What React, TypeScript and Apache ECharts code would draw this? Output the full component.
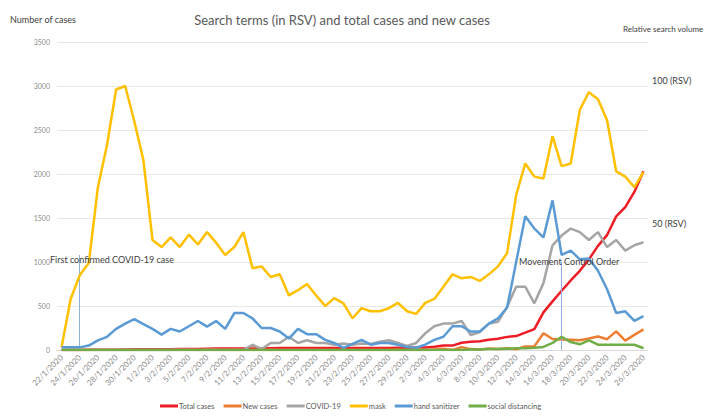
import React, { useEffect, useRef } from "react";
import * as echarts from "echarts";

const dates = [
  "22/1/2020", "23/1/2020", "24/1/2020", "25/1/2020", "26/1/2020", "27/1/2020", "28/1/2020", "29/1/2020", "30/1/2020", "31/1/2020",
  "1/2/2020", "2/2/2020", "3/2/2020", "4/2/2020", "5/2/2020", "6/2/2020", "7/2/2020", "8/2/2020", "9/2/2020", "10/2/2020",
  "11/2/2020", "12/2/2020", "13/2/2020", "14/2/2020", "15/2/2020", "16/2/2020", "17/2/2020", "18/2/2020", "19/2/2020", "20/2/2020",
  "21/2/2020", "22/2/2020", "23/2/2020", "24/2/2020", "25/2/2020", "26/2/2020", "27/2/2020", "28/2/2020", "29/2/2020",
  "1/3/2020", "2/3/2020", "3/3/2020", "4/3/2020", "5/3/2020", "6/3/2020", "7/3/2020", "8/3/2020", "9/3/2020", "10/3/2020",
  "11/3/2020", "12/3/2020", "13/3/2020", "14/3/2020", "15/3/2020", "16/3/2020", "17/3/2020", "18/3/2020", "19/3/2020", "20/3/2020",
  "21/3/2020", "22/3/2020", "23/3/2020", "24/3/2020", "25/3/2020", "26/3/2020",
];

const totalCases = [
  0, 0, 0, 3, 4, 4, 4, 7, 8, 8,
  8, 8, 8, 10, 12, 12, 14, 16, 16, 18,
  18, 18, 19, 21, 22, 22, 22, 22, 22, 22,
  22, 22, 22, 22, 22, 22, 23, 25, 25,
  29, 29, 36, 50, 50, 83, 93, 99, 117, 129,
  149, 158, 197, 238, 428, 553, 673, 790, 900, 1030,
  1183, 1306, 1518, 1624, 1796, 2031,
];

const newCases = [
  0, 0, 0, 3, 1, 0, 0, 3, 1, 0,
  0, 0, 0, 2, 2, 0, 2, 2, 0, 2,
  0, 0, 1, 2, 1, 0, 0, 0, 0, 0,
  0, 0, 0, 0, 0, 0, 1, 2, 0,
  4, 0, 7, 14, 0, 33, 10, 6, 18, 12,
  20, 9, 39, 41, 190, 125, 120, 117, 110, 130,
  153, 123, 212, 106, 172, 235,
];

const covid19 = [
  0, 0, 0, 0, 0, 0, 0, 0, 0, 0,
  0, 0, 0, 0, 0, 0, 0, 0, 0, 0,
  0, 60, 10, 80, 80, 150, 80, 110, 80, 80,
  60, 75, 60, 75, 70, 95, 110, 80, 45,
  80, 190, 270, 300, 300, 330, 170, 205, 300, 320,
  490, 720, 720, 530, 760, 1190, 1300, 1380, 1340, 1250,
  1340, 1170, 1250, 1130, 1190, 1225,
];

const mask = [
  30, 580, 850, 990, 1850, 2330, 2960, 3000, 2600, 2160,
  1250, 1170, 1280, 1170, 1310, 1200, 1340, 1220, 1080, 1170,
  1340, 930, 950, 830, 860, 620, 680, 750, 620, 500,
  590, 530, 360, 475, 440, 440, 475, 535, 440,
  410, 535, 580, 720, 860, 815, 830, 785, 860, 950,
  1100, 1760, 2120, 1970, 1950, 2430, 2090, 2120, 2730, 2930,
  2850, 2610, 2030, 1970, 1850, 2020,
];

const handSanitizer = [
  30, 30, 30, 50, 110, 150, 240, 300, 350, 295,
  240, 175, 240, 210, 270, 330, 265, 330, 240, 420,
  420, 360, 250, 250, 210, 130, 240, 180, 180, 115,
  80, 25, 70, 115, 60, 80, 80, 60, 35,
  25, 60, 115, 150, 270, 270, 210, 210, 300, 360,
  480, 1000, 1520, 1380, 1280, 1700, 1080, 1130, 1030, 1040,
  900, 690, 420, 440, 330, 385,
];

const socialDistancing = [
  0, 0, 0, 0, 0, 0, 0, 0, 0, 0,
  0, 0, 0, 0, 0, 0, 0, 0, 0, 0,
  0, 0, 0, 0, 0, 0, 0, 0, 0, 0,
  0, 0, 0, 0, 0, 0, 0, 0, 0,
  0, 0, 0, 0, 0, 0, 5, 5, 10, 10,
  15, 20, 20, 25, 35, 80, 150, 90, 65, 110,
  60, 60, 60, 60, 60, 20,
];

const seriesNames = ["Total cases", "New cases", "COVID-19", "mask", "hand sanitizer", "social distancing"];
const seriesColors = ["#EE1C25", "#ED7D31", "#A5A5A5", "#FFC000", "#5B9BD5", "#70AD47"];
const seriesData = [totalCases, newCases, covid19, mask, handSanitizer, socialDistancing];

const yTicks = { min: 0, max: 3500, interval: 500 };

const annotations = [
  { date: "24/1/2020", top: 1080 },
  { date: "17/3/2020", top: 1000 },
];

const FONT = "Lato, 'Open Sans', sans-serif";

export default function App() {
  const ref = useRef<HTMLDivElement>(null);
  useEffect(() => {
    if (!ref.current) return;
    const chart = echarts.init(ref.current, undefined, { renderer: "svg" });
    const series: any[] = seriesNames.map((name, i) => ({
      name,
      type: "line",
      data: seriesData[i],
      symbol: "none",
      showSymbol: false,
      lineStyle: { width: 2.5, color: seriesColors[i] },
      itemStyle: { color: seriesColors[i] },
      z: 2 + i,
    }));
    series[4].markLine = {
      silent: true,
      symbol: ["none", "none"],
      label: { show: false },
      lineStyle: { color: "#8FB1DE", width: 1, type: "solid" },
      data: annotations.map((a) => [
        { coord: [a.date, a.top] },
        { coord: [a.date, 0] },
      ]),
    };
    chart.setOption({
      animation: false,
      textStyle: { fontFamily: FONT },
      grid: { left: 57, right: 74, top: 42, bottom: 70, containLabel: false },
      xAxis: {
        type: "category",
        data: dates,
        boundaryGap: true,
        axisLine: { lineStyle: { color: "#D9D9D9" } },
        axisTick: { show: false },
        axisLabel: { rotate: 45, interval: 1, fontSize: 8, color: "#8C8C8C", margin: 6, fontFamily: FONT },
      },
      yAxis: {
        type: "value",
        min: yTicks.min,
        max: yTicks.max,
        interval: yTicks.interval,
        axisLine: { show: false },
        axisTick: { show: false },
        splitLine: { lineStyle: { color: "#E8E8E8", width: 1 } },
        axisLabel: { fontSize: 7, color: "#8C8C8C", margin: 7, fontFamily: FONT, formatter: (v: number) => String(v) },
      },
      legend: {
        data: seriesNames,
        left: 155,
        top: 397,
        icon: "rect",
        itemWidth: 18,
        itemHeight: 3,
        itemGap: 9,
        textStyle: { fontSize: 7.5, color: "#595959", fontFamily: FONT, padding: [0, 0, 0, -4] },
      },
      graphic: [
        { type: "text", left: 10, top: 15, style: { text: "Number of cases", fontSize: 9, fill: "#404040", fontFamily: FONT } },
        { type: "text", x: 342, y: 20, style: { text: "Search terms (in RSV) and total cases and new cases", fontSize: 13, fill: "#595959", fontFamily: FONT, textAlign: "center", textVerticalAlign: "middle" } },
        { type: "text", x: 623, y: 29, style: { text: "Relative search volume", fontSize: 8, fill: "#404040", fontFamily: FONT, textVerticalAlign: "middle" } },
        { type: "text", x: 652, y: 80, style: { text: "100 (RSV)", fontSize: 9, fill: "#404040", fontFamily: FONT, textVerticalAlign: "middle" } },
        { type: "text", x: 652, y: 223, style: { text: "50 (RSV)", fontSize: 9, fill: "#404040", fontFamily: FONT, textVerticalAlign: "middle" } },
        { type: "text", x: 50, y: 259, z: 20, style: { text: "First confirmed COVID-19 case", fontSize: 9, fill: "#404040", fontFamily: FONT, textVerticalAlign: "middle" } },
        { type: "text", x: 519, y: 261, z: 20, style: { text: "Movement Control Order", fontSize: 9, fill: "#404040", fontFamily: FONT, textVerticalAlign: "middle" } },
      ],
      series,
    });
    return () => chart.dispose();
  }, []);
  return <div ref={ref} style={{ width: 722, height: 420, position: "absolute", left: 0, top: 0, background: "#fff" }} />;
}
